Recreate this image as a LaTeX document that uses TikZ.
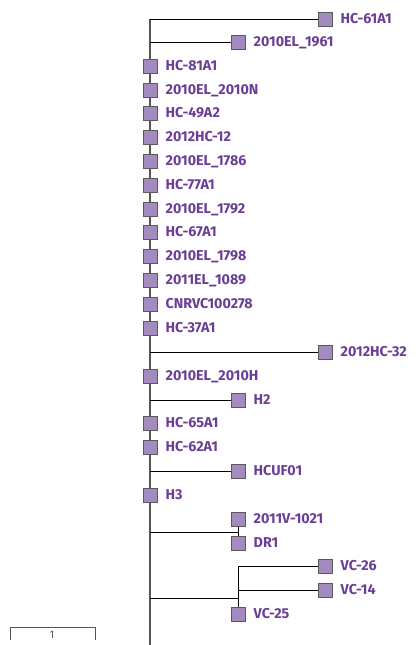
\documentclass[tikz,border=0pt]{standalone}
\usepackage{fontspec}
\setmainfont{Fira Sans}
\usepackage{tikz}
\usetikzlibrary{positioning}

\definecolor{leaffill}{RGB}{163,139,191}
\definecolor{leafdraw}{RGB}{90,90,90}
\definecolor{leaftext}{RGB}{106,62,150}
\definecolor{stem}{RGB}{85,85,85}

\tikzset{
  leaf/.style={draw=leafdraw, fill=leaffill, line width=1pt, minimum size=14pt, inner sep=0pt},
  lbl/.style={right=8pt of #1, inner sep=0pt, text=leaftext, font=\fontsize{14.3}{16}\selectfont\bfseries, text height=9.8pt, text depth=0pt},
  branch/.style={line width=1pt, black},
  trunk/.style={line width=1.3pt, stem}
}

\begin{document}
\begin{tikzpicture}[x=1pt,y=1pt,yscale=-1,xscale=1]
\useasboundingbox (0,0) rectangle (419,645);

% tree root and end of trunk
\coordinate (root) at (150,19);
\coordinate (base) at (150,645);
\draw [trunk] (root) -- (base);

% leaves sitting on the trunk
\foreach \y/\nm/\txt in {66/hc81a1/HC-81A1, 90/el2010n/2010EL\_2010N, 113/hc49a2/HC-49A2,
    137/hc2012/2012HC-12, 161/el1786/2010EL\_1786, 185/hc77a1/HC-77A1,
    209/el1792/2010EL\_1792, 232/hc67a1/HC-67A1, 256/el1798/2010EL\_1798,
    280/el1089/2011EL\_1089, 304/cnrvc/CNRVC100278, 328/hc37a1/HC-37A1,
    376/el2010h/2010EL\_2010H, 423/hc65a1/HC-65A1, 447/hc62a1/HC-62A1, 495/hthree/H3}
{
  \node [leaf] (\nm) at (150,\y) {};
  \node [lbl=\nm] {\txt};
}

% leaves on side branches
\foreach \x/\y/\nm/\txt in {325/19/hc61a1/HC-61A1, 238/42/el1961/2010EL\_1961,
    325/352/hc32/2012HC-32, 238/400/htwo/H2, 238/471/hcuf/HCUF01}
{
  \coordinate (\nm-j) at (150,\y);
  \draw [branch] (\nm-j) -- (\x,\y);
  \node [leaf] (\nm) at (\x,\y) {};
  \node [lbl=\nm] {\txt};
}

% DR clade
\coordinate (drj) at (150,532);
\coordinate (dr) at (238,532);
\draw [branch] (drj) -- (dr);
\node [leaf] (v1021) at (238,519) {};
\node [lbl=v1021] {2011V-1021};
\node [leaf] (drone) at (238,543) {};
\node [lbl=drone] {DR1};
\draw [branch] (v1021) -- (drone);

% VC clade
\coordinate (vcj) at (150,598);
\coordinate (vc) at (238,598);
\coordinate (vctop) at (238,566);
\coordinate (vcmid) at (238,590);
\node [leaf] (vc26) at (325,566) {};
\node [lbl=vc26] {VC-26};
\node [leaf] (vc14) at (325,590) {};
\node [lbl=vc14] {VC-14};
\node [leaf] (vc25) at (238,614) {};
\node [lbl=vc25] {VC-25};
\draw [branch] (vcj) -- (vc);
\draw [branch] (vctop) -- (vc25);
\draw [branch] (vctop) -- (vc26);
\draw [branch] (vcmid) -- (vc14);

% scale bar
\coordinate (sbl) at (10,627);
\coordinate (sbr) at (95,627);
\draw [line width=1pt, stem] ([yshift=13pt]sbl) -- (sbl) -- (sbr) -- ([yshift=13pt]sbr);
\node [text=stem, font=\fontsize{11}{12}\selectfont] (sblabel) at (52,635) {1};
\end{tikzpicture}
\end{document}
